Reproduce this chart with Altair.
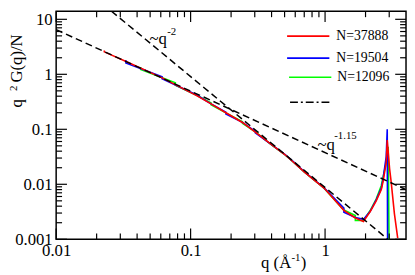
import altair as alt
import pandas as pd

# ---- data ----
q_red = [0.0228, 0.0228, 0.0341, 0.0614, 0.111, 0.142, 0.183, 0.243, 0.303, 0.402, 0.502, 0.577,
         0.703, 0.983, 1.38, 1.68, 1.93, 2.16, 2.40, 2.62, 2.70, 2.85, 2.90, 3.02, 3.10, 3.28, 3.47]
g_red = [2.72, 2.56, 1.66, 0.86, 0.41, 0.29, 0.20, 0.133, 0.089, 0.052, 0.0348, 0.0257,
         0.0167, 0.00855, 0.00336, 0.00244, 0.00210, 0.00314, 0.0050, 0.0080, 0.0112, 0.0250,
         0.0636, 0.0191, 0.0112, 0.0029, 0.00105]

q_blue = [0.033, 0.033, 0.0614, 0.0614, 0.111, 0.142, 0.183, 0.183, 0.243, 0.303, 0.303, 0.402,
          0.502, 0.577, 0.703, 0.983, 1.38, 1.38, 1.68, 1.93, 2.16, 2.40, 2.62, 2.70, 2.85, 2.90,
          2.92]
g_blue = [1.82, 1.60, 0.90, 0.83, 0.42, 0.29, 0.205, 0.19, 0.134, 0.092, 0.086, 0.052,
          0.035, 0.026, 0.0168, 0.0086, 0.0037, 0.0031, 0.0025, 0.0023, 0.0032, 0.0052, 0.0085,
          0.0125, 0.032, 0.100, 0.0004]

q_green = [0.0425, 0.0425, 0.077, 0.077, 0.111, 0.142, 0.142, 0.183, 0.243, 0.243, 0.303, 0.402,
           0.502, 0.577, 0.703, 0.983, 1.38, 1.68, 1.68, 1.93, 2.16, 2.40, 2.62, 2.70, 2.85, 2.95,
           3.00]
g_green = [1.36, 1.22, 0.70, 0.63, 0.415, 0.30, 0.28, 0.199, 0.137, 0.128, 0.0895, 0.0515,
           0.0345, 0.0258, 0.0167, 0.0085, 0.0034, 0.0027, 0.0022, 0.0022, 0.0033, 0.0054, 0.0095,
           0.0135, 0.025, 0.048, 0.0004]

# guide lines (end points where they meet the frame)
q_pow2 = [0.0258, 2.93]
g_pow2 = [14.0, 0.001]
q_pow115 = [0.01, 4.0]
g_pow115 = [6.5, 0.008]

series_labels = ["N=37888", "N=19504", "N=12096"]
series_colors = ["#ff0000", "#0000ff", "#00ff00"]

x_label_values = [0.01, 0.1, 1]
y_label_values = [0.001, 0.01, 0.1, 1, 10]
x_minor = [0.02, 0.03, 0.04, 0.05, 0.06, 0.07, 0.08, 0.09,
           0.2, 0.3, 0.4, 0.5, 0.6, 0.7, 0.8, 0.9, 2, 3]
y_minor = [0.002, 0.003, 0.004, 0.005, 0.006, 0.007, 0.008, 0.009,
           0.02, 0.03, 0.04, 0.05, 0.06, 0.07, 0.08, 0.09,
           0.2, 0.3, 0.4, 0.5, 0.6, 0.7, 0.8, 0.9,
           2, 3, 4, 5, 6, 7, 8, 9]

# ---- layout ----
W, H = 356, 232
FONT = "Liberation Serif"
xs = alt.Scale(type="log", domain=[0.01, 4], nice=False)
ys = alt.Scale(type="log", domain=[0.001, 14], nice=False)
one = pd.DataFrame({"a": [0]})

XA = alt.Axis(values=x_label_values, format="~g", title=None, grid=False, ticks=False,
              tickSize=0, domain=False, labelFont=FONT, labelFontSize=17,
              labelColor="black", labelPadding=4, labelFlush=False)
YA = alt.Axis(values=y_label_values, format="~g", title=None, grid=False, ticks=False,
              tickSize=0, domain=False, labelFont=FONT, labelFontSize=17,
              labelColor="black", labelPadding=4, labelFlush=False)


def curve(q, g, color, width=1.6, dash=None):
    df = pd.DataFrame({"q": q, "g": g, "i": list(range(len(q)))})
    kw = dict(color=color, strokeWidth=width, clip=True)
    if dash:
        kw["strokeDash"] = dash
    return alt.Chart(df).mark_line(**kw).encode(
        x=alt.X("q:Q", scale=xs, axis=XA),
        y=alt.Y("g:Q", scale=ys, axis=YA),
        order="i:Q",
    )


def xticks(vals, length, top):
    df = pd.DataFrame({"q": vals})
    if top:
        y1, y2 = 0, length
    else:
        y1, y2 = H, H - length
    return alt.Chart(df).mark_rule(color="black", strokeWidth=1.2).encode(
        x=alt.X("q:Q", scale=xs, axis=XA), y=alt.value(y1), y2=alt.value(y2))


def yticks(vals, length, right):
    df = pd.DataFrame({"g": vals})
    if right:
        x1, x2 = W, W - length
    else:
        x1, x2 = 0, length
    return alt.Chart(df).mark_rule(color="black", strokeWidth=1.2).encode(
        y=alt.Y("g:Q", scale=ys, axis=YA), x=alt.value(x1), x2=alt.value(x2))


def text(t, x, y, size=17, angle=0, baseline="alphabetic"):
    kw = dict(text=t, font=FONT, fontSize=size, color="black", align="left", baseline=baseline)
    if angle:
        kw["angle"] = angle
    return alt.Chart(one).mark_text(**kw).encode(x=alt.value(x), y=alt.value(y))


def hline(x1, x2, y, color, dash=None):
    kw = dict(color=color, strokeWidth=1.6)
    if dash:
        kw["strokeDash"] = dash
    return alt.Chart(one).mark_rule(**kw).encode(x=alt.value(x1), x2=alt.value(x2), y=alt.value(y))


layers = [
    curve(q_green, g_green, series_colors[2]),
    curve(q_blue, g_blue, series_colors[1]),
    curve(q_red, g_red, series_colors[0]),
    curve(q_pow2, g_pow2, "black", width=1.5, dash=[7, 4]),
    curve(q_pow115, g_pow115, "black", width=1.5, dash=[7, 4]),
    xticks(x_label_values, 11, False), xticks(x_minor, 6, False),
    xticks(x_label_values, 11, True), xticks(x_minor, 6, True),
    yticks(y_label_values, 11, False), yticks(y_minor, 6, False),
    yticks(y_label_values, 11, True), yticks(y_minor, 6, True),
    # legend
    hline(235, 278, 25.3, series_colors[0]), text(series_labels[0], 285, 25.3, 14, baseline="middle"),
    hline(235, 278, 47.7, series_colors[1]), text(series_labels[1], 285, 47.7, 14, baseline="middle"),
    hline(237, 280, 67.2, series_colors[2]), text(series_labels[2], 286, 67.2, 14, baseline="middle"),
    hline(238, 278, 92.5, "black", dash=[8, 3, 2, 3]),
    # annotations
    text("~q", 95, 33.4), text("-2", 113, 23.7, 11),
    text("~q", 266, 141.5), text("-1.15", 283, 129.8, 11),
    # axis titles
    text("q (Å", 208.5, 261), text("-1", 239.5, 254, 11), text(")", 249, 261),
    text("q", -35, 98, angle=270), text("2", -40, 81, 11, angle=270),
    text("G(q)/N", -35, 72.5, angle=270),
]

chart = alt.layer(*layers).properties(
    width=W, height=H,
    padding={"left": 49, "top": 1, "right": 1, "bottom": 33},
    autosize=alt.AutoSizeParams(type="none"),
    background="white",
).configure_view(stroke="black", strokeWidth=1.5)

chart.save("out.html", embed_options={"renderer": "svg", "actions": False})
